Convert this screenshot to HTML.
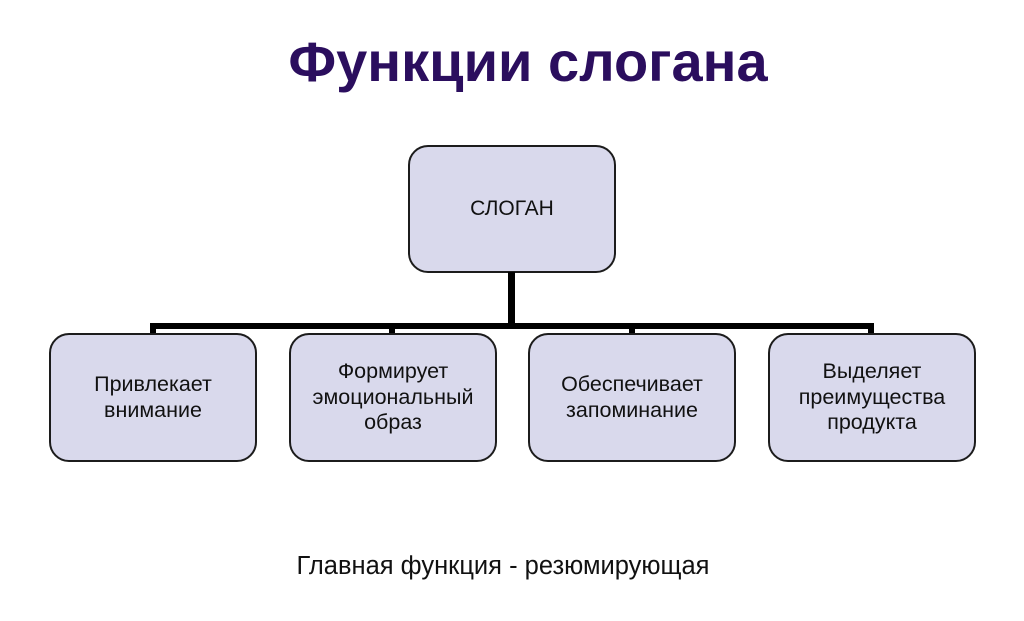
<!DOCTYPE html>
<html>
<head>
<meta charset="utf-8">
<style>
  html,body{margin:0;padding:0;background:#fff;}
  body{width:1024px;height:621px;position:relative;overflow:hidden;font-family:"Liberation Sans",Arial,sans-serif;}
  .title{position:absolute;left:28px;width:1000px;top:34px;text-align:center;font-size:56px;line-height:56px;font-weight:bold;color:#2b0e5e;white-space:nowrap;}
  .box{position:absolute;box-sizing:border-box;background:#d9d9ec;border:2px solid #1c1c1c;border-radius:20px;display:flex;align-items:center;justify-content:center;text-align:center;font-size:21.5px;line-height:25.5px;color:#111;}
  .bar{position:absolute;background:#000;}
  .foot{position:absolute;left:3px;width:1000px;top:554px;text-align:center;font-size:25.5px;line-height:25.5px;color:#111;white-space:nowrap;}
</style>
</head>
<body>
<div class="title">Функции слогана</div>

<div class="box" style="left:408px;top:145px;width:208px;height:128px;font-size:21px;">СЛОГАН</div>

<div class="bar" style="left:508px;top:272px;width:7px;height:57px;"></div>
<div class="bar" style="left:150px;top:323px;width:724px;height:6px;"></div>
<div class="bar" style="left:150px;top:323px;width:6px;height:11px;"></div>
<div class="bar" style="left:389px;top:323px;width:6px;height:11px;"></div>
<div class="bar" style="left:629px;top:323px;width:6px;height:11px;"></div>
<div class="bar" style="left:868px;top:323px;width:6px;height:11px;"></div>

<div class="box" style="left:49px;top:333px;width:208px;height:129px;">Привлекает<br>внимание</div>
<div class="box" style="left:289px;top:333px;width:208px;height:129px;">Формирует<br>эмоциональный<br>образ</div>
<div class="box" style="left:528px;top:333px;width:208px;height:129px;">Обеспечивает<br>запоминание</div>
<div class="box" style="left:768px;top:333px;width:208px;height:129px;">Выделяет<br>преимущества<br>продукта</div>

<div class="foot">Главная функция - резюмирующая</div>
</body>
</html>
